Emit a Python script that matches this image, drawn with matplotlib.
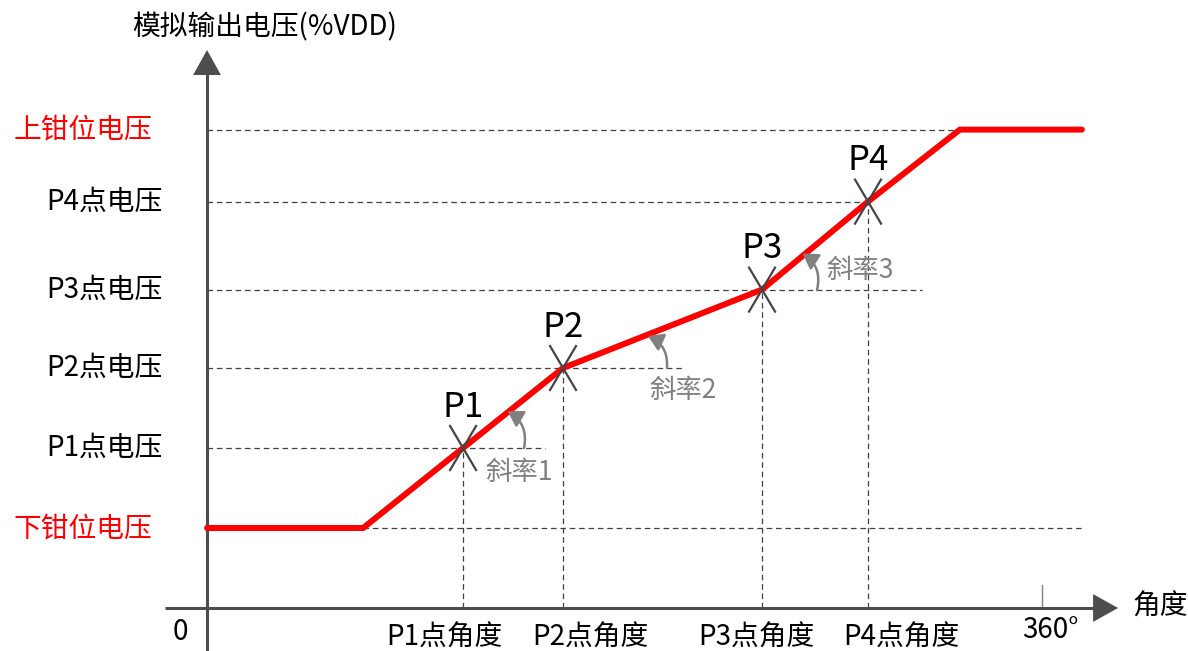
import matplotlib
matplotlib.use('Agg')
import matplotlib.pyplot as plt
from matplotlib.patches import FancyArrowPatch

plt.rcParams['font.family'] = ['Noto Sans CJK SC', 'DejaVu Sans']

# ---------------- data ----------------
y_title = '模拟输出电压(%VDD)'
x_title = '角度'
clamp_labels = ['下钳位电压', '上钳位电压']
clamp_volts = [10.0, 59.8]
point_names = ['P1', 'P2', 'P3', 'P4']
point_angles = [110.4, 153.5, 239.3, 285.0]
point_volts = [20.0, 30.0, 39.8, 50.8]
volt_labels = ['P1点电压', 'P2点电压', 'P3点电压', 'P4点电压']
angle_labels = ['P1点角度', 'P2点角度', 'P3点角度', 'P4点角度']
slope_labels = ['斜率1', '斜率2', '斜率3']
ramp_start_angle = 67.3
ramp_end_angle = 324.6
curve_end_angle = 377.2
full_turn = 360
full_turn_label = '360°'
origin_label = '0'
guide_ends = [145.7, 205.2, 308.3, 285.0]

# ---------------- layout ----------------
RED = '#ff0000'
AX = '#4d4d4d'
DASH = '#404040'
GRAY = '#808080'

fig = plt.figure(figsize=(11.88, 6.51), dpi=100)
ax = fig.add_axes([0, 0, 1, 1])
ax.set_xlim(-89.25, 422.95)
ax.set_ylim(-5.375, 76.0)
ax.axis('off')

# axes with arrows
ax.plot([0, 0], [-5.375, 67.5], color=AX, lw=2.2, solid_capstyle='butt', zorder=3)
ax.plot([-18.1, 386], [0, 0], color=AX, lw=2.2, solid_capstyle='butt', zorder=3)
ax.add_patch(FancyArrowPatch((0, 66), (0, 69.75), arrowstyle='-|>,head_length=0.9,head_width=0.5',
                             mutation_scale=20, color=AX, lw=0, shrinkA=0, shrinkB=0, zorder=4))
ax.add_patch(FancyArrowPatch((384, 0), (392.8, 0), arrowstyle='-|>,head_length=0.9,head_width=0.5',
                             mutation_scale=20, color=AX, lw=0, shrinkA=0, shrinkB=0, zorder=4))

# 360 tick
ax.plot([full_turn, full_turn], [0, 2.9], color=GRAY, lw=1.0, zorder=2)

dash_kw = dict(color=DASH, lw=0.9, dashes=(4.5, 3), zorder=1)
# clamp guides
ax.plot([ramp_start_angle, curve_end_angle], [clamp_volts[0]] * 2, **dash_kw)
ax.plot([0, ramp_end_angle], [clamp_volts[1]] * 2, **dash_kw)
# point guides
for a, v, e in zip(point_angles, point_volts, guide_ends):
    ax.plot([0, e], [v, v], **dash_kw)
    ax.plot([a, a], [0, v], **dash_kw)

# red curve
xs = [0, ramp_start_angle] + point_angles + [ramp_end_angle, curve_end_angle]
ys = [clamp_volts[0], clamp_volts[0]] + point_volts + [clamp_volts[1], clamp_volts[1]]
ax.plot(xs, ys, color=RED, lw=4.3, solid_capstyle='round', solid_joinstyle='miter', zorder=5)

# X markers and point names
hw, hh = 5.6, 2.75
for a, v, name in zip(point_angles, point_volts, point_names):
    ax.plot([a - hw, a + hw], [v + hh, v - hh], color='#444444', lw=1.6, zorder=6)
    ax.plot([a - hw, a + hw], [v - hh, v + hh], color='#444444', lw=1.6, zorder=6)
    ax.text(a, v + 5.1, name, fontsize=25, ha='center', va='center', color='black', zorder=7)

# y labels
for v, lab in zip(point_volts, volt_labels):
    ax.text(-19.0, v, lab, fontsize=20, ha='right', va='center', color='black')
for v, lab in zip(clamp_volts, clamp_labels):
    ax.text(-23.5, v, lab, fontsize=20, ha='right', va='center', color=RED, style='italic')

# x labels
label_shift = [-8.2, 11.6, -2.6, 14.2]
for a, s, lab in zip(point_angles, label_shift, angle_labels):
    ax.text(a + s, -3.75, lab, fontsize=20, ha='center', va='center', color='black')
ax.text(full_turn + 3.5, -2.75, full_turn_label, fontsize=20, ha='center', va='center', color='black')
ax.text(-11.6, -3.0, origin_label, fontsize=20, ha='center', va='center', color='black')
ax.text(410.9, 0.1, x_title, fontsize=20, ha='center', va='center', color='black')
ax.text(24.6, 72.6, y_title, fontsize=20, ha='center', va='center', color='black')

# slope arrows
slope_arrows = [((136.7, 20.0), (129.6, 24.6)),
                ((198.3, 30.0), (190.1, 34.0)),
                ((263.0, 39.75), (256.8, 44.3))]
slope_text_pos = [(134.5, 17.0), (205.2, 27.25), (281.5, 42.25)]
for (b, t), (tx, ty), lab in zip(slope_arrows, slope_text_pos, slope_labels):
    ax.add_patch(FancyArrowPatch(b, t, connectionstyle='arc3,rad=0.35',
                                 arrowstyle='-|>,head_length=0.45,head_width=0.28',
                                 mutation_scale=20, color=GRAY, lw=1.8,
                                 shrinkA=0, shrinkB=0, zorder=6))
    ax.text(tx, ty, lab, fontsize=19, ha='center', va='center', color=GRAY)

fig.savefig('out.png', dpi=100)
